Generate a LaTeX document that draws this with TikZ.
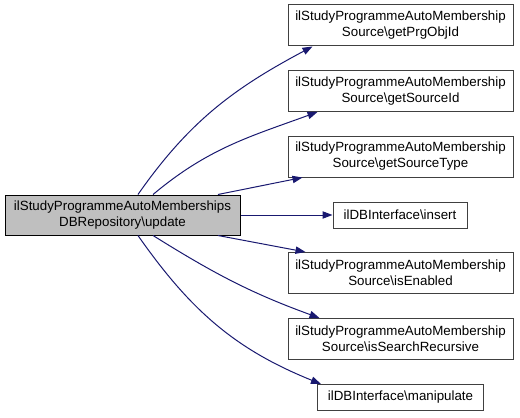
\documentclass[tikz,border=0pt]{standalone}
\usepackage{fontspec}
\setmainfont{Liberation Sans}
\usetikzlibrary{arrows.meta}
\definecolor{callerfill}{RGB}{191,191,191}
\definecolor{callline}{RGB}{25,25,112}
\begin{document}
\begin{tikzpicture}[
  x=0.75pt, y=0.75pt,
  every node/.style={draw, rectangle, align=center, inner sep=0pt,
    line width=0.75pt, font=\fontsize{10pt}{12pt}\selectfont},
  caller/.style={fill=callerfill, draw=black,
    minimum width=176.25pt, minimum height=30pt},
  callee/.style={fill=white, draw=black!75,
    minimum width=168.75pt, minimum height=30.75pt},
  small/.style={fill=white, draw=black!75, minimum height=19.5pt},
  call/.style={draw=callline, line width=0.75pt,
    -{Triangle[length=7.5pt,width=5.5pt]}}
]
\useasboundingbox (0,0) rectangle (520,-417);

\node[caller] (upd) at (122.5,-215) {ilStudyProgrammeAutoMemberships\\DBRepository\textbackslash update};

\node[callee] (prg) at (400.5,-25.5) {ilStudyProgrammeAutoMembership\\Source\textbackslash getPrgObjId};
\node[callee] (sid) at (400.5,-91) {ilStudyProgrammeAutoMembership\\Source\textbackslash getSourceId};
\node[callee] (stype) at (400.5,-156.5) {ilStudyProgrammeAutoMembership\\Source\textbackslash getSourceType};
\node[small, minimum width=100.5pt] (ins) at (400,-215) {ilDBInterface\textbackslash insert};
\node[callee] (enab) at (400.5,-273) {ilStudyProgrammeAutoMembership\\Source\textbackslash isEnabled};
\node[callee] (rec) at (400.5,-339) {ilStudyProgrammeAutoMembership\\Source\textbackslash isSearchRecursive};
\node[small, minimum width=124.5pt] (man) at (400.5,-397.5) {ilDBInterface\textbackslash manipulate};

% calls from update
\draw[call] ([xshift=11.6pt]upd.north) to[out=55, in=208] ([xshift=18.75pt]prg.south west);
\draw[call] ([xshift=22.9pt]upd.north) to[out=40, in=200] ([xshift=22.5pt]sid.south west);
\draw[call] ([xshift=71.6pt]upd.north) -- ([xshift=11.25pt]stype.south west);
\draw[call] (upd.east) -- (ins.west);
\draw[call] ([xshift=71.6pt]upd.south) -- ([xshift=13.5pt]enab.north west);
\draw[call] ([xshift=22.9pt]upd.south) to[out=-32, in=160] ([xshift=24pt]rec.north west);
\draw[call] ([xshift=11.6pt]upd.south) to[out=-55, in=158] ([xshift=3pt]man.north west);
\end{tikzpicture}
\end{document}
